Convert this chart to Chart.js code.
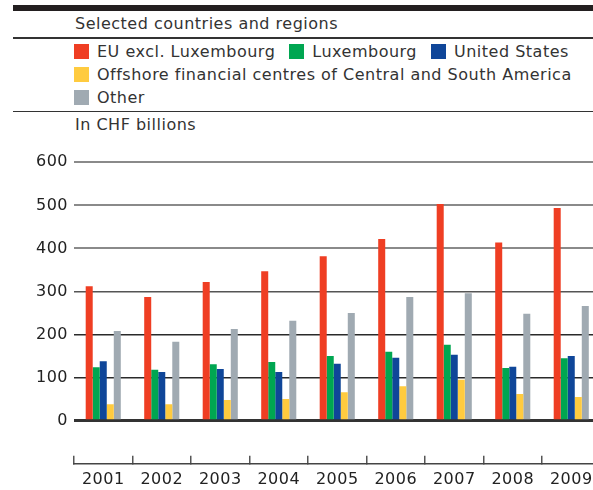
<!DOCTYPE html>
<html>
<head>
<meta charset="utf-8">
<script src="https://cdn.jsdelivr.net/npm/chart.js@4"></script>
<style>
  html, body { margin: 0; padding: 0; background: #fff; overflow: hidden; width: 593px; height: 490px; }
  body { position: relative; font-family: "DejaVu Sans", sans-serif; color: #333; font-size: 16px; letter-spacing: 0.5px; }
  #topbar { position: absolute; left: 13px; top: 5px; width: 590px; height: 6px; background: #231f20; }
  .rule { position: absolute; left: 13px; width: 590px; height: 1.5px; background: #333; }
  #title { position: absolute; left: 75px; top: 13px; line-height: 22px; }
  #legend { position: absolute; left: 74px; top: 39.5px; width: 519px; display: flex; flex-wrap: wrap; }
  .item { display: flex; align-items: center; height: 23px; margin-right: 14px; white-space: nowrap; }
  .box { width: 15px; height: 15px; margin-right: 8px; }
  #unit { position: absolute; left: 75px; top: 114px; line-height: 22px; }
  #wrap { position: absolute; left: 0; top: 140px; }
</style>
</head>
<body>
<div id="topbar"></div>
<div id="title">Selected countries and regions</div>
<div class="rule" style="top:37px"></div>
<div id="legend"></div>
<div class="rule" style="top:110.5px"></div>
<div id="unit">In CHF billions</div>
<div id="wrap"><canvas id="chart" width="610" height="350"></canvas></div>
<script>
var years = ['2001', '2002', '2003', '2004', '2005', '2006', '2007', '2008', '2009'];
var seriesNames = ['EU excl. Luxembourg', 'Luxembourg', 'United States',
    'Offshore financial centres of Central and South America', 'Other'];
var seriesColors = ['#EF3E23', '#00A651', '#0F4699', '#FFCB3F', '#A0AAB2'];

var euExLux   = [312, 287, 322, 347, 382, 422, 503, 414, 494];
var luxembourg = [124, 118, 131, 136, 150, 160, 176, 122, 145];
var unitedStates = [138, 113, 120, 113, 132, 146, 153, 125, 150];
var offshore  = [38, 38, 48, 50, 66, 80, 95, 62, 55];
var other     = [208, 183, 213, 232, 250, 287, 296, 248, 266];

var seriesValues = [euExLux, luxembourg, unitedStates, offshore, other];

var legendHtml = '';
for (var i = 0; i < seriesNames.length; i++) {
    legendHtml += '<div class="item"><div class="box" style="background:' + seriesColors[i] + '"></div>' + seriesNames[i] + '</div>';
}
document.getElementById('legend').innerHTML = legendHtml;

var datasets = [];
for (i = 0; i < seriesNames.length; i++) {
    datasets.push({
        label: seriesNames[i],
        data: seriesValues[i],
        backgroundColor: seriesColors[i],
        borderWidth: 0,
        barPercentage: 1,
        categoryPercentage: 0.6
    });
}

Chart.defaults.font.family = '"DejaVu Sans", sans-serif';
Chart.defaults.font.size = 16;
Chart.defaults.color = '#222';

// the space under zero (-100) just pushes the year axis down, it gets no line or label
function gridColor(c) {
    var v = c.tick ? c.tick.value : 0;
    if (v < 0) return 'rgba(0,0,0,0)';
    if (v === 0) return '#333';
    if (v <= 200) return '#2a2a2a';
    if (v === 300) return '#555';
    return '#8a8a8a';
}
function gridWidth(c) {
    var v = c.tick ? c.tick.value : 0;
    if (v === 0) return 3;
    if (v <= 300) return 1.5;
    return 2;
}

var ctx = document.getElementById('chart').getContext('2d');
var myChart = new Chart(ctx, {
    type: 'bar',
    data: { labels: years, datasets: datasets },
    options: {
        responsive: false,
        animation: false,
        layout: { padding: { top: 22.3, right: 9.5, bottom: 0, left: 0 } },
        plugins: { legend: { display: false }, tooltip: { enabled: false } },
        scales: {
            x: {
                border: { display: true, color: '#444', width: 1.5 },
                grid: {
                    offset: true,
                    drawOnChartArea: false,
                    tickLength: -8,
                    color: '#555',
                    lineWidth: 1.5
                },
                afterFit: function (scale) { scale.height = 26.3; },
                ticks: { padding: 14.8, color: '#222' }
            },
            y: {
                min: -100,
                max: 600,
                border: { display: false },
                afterFit: function (scale) { scale.width = 74; },
                grid: {
                    drawTicks: false,
                    color: gridColor,
                    lineWidth: gridWidth
                },
                ticks: {
                    stepSize: 100,
                    padding: 6,
                    color: '#222',
                    callback: function (v) { return v < 0 ? '' : v; }
                }
            }
        }
    }
});
</script>
</body>
</html>
